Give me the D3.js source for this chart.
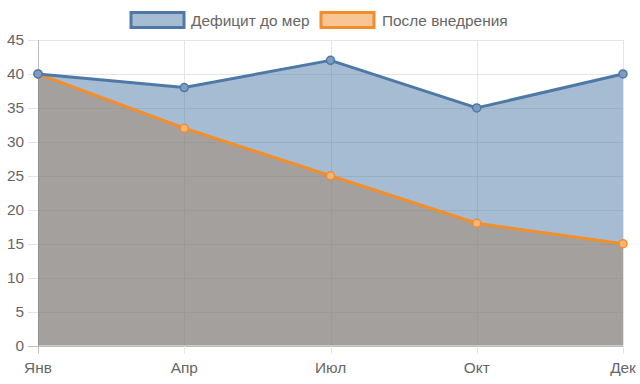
<!DOCTYPE html>
<html><head><meta charset="utf-8">
<script src="https://cdn.jsdelivr.net/npm/d3@7"></script>
<style>body{margin:0;background:#fff}svg{display:block}</style>
</head><body><svg id="c" width="640" height="384"></svg>
<script>
const categories = ["Янв","Апр","Июл","Окт","Дек"];
const seriesNames = ["Дефицит до мер","После внедрения"];
const deficitBefore = [40,38,42,35,40];
const afterImpl = [40,32,25,18,15];
const yTicks = [0,5,10,15,20,25,30,35,40,45];

const colors = ["#4e79a7","#f28e2b"];
const svg = d3.select("#c");
const font = "'Liberation Sans', Arial, sans-serif";
const fs = 15.4;
const L=38, R=623, T=40, B=345.5;
const x = d3.scalePoint().domain(categories).range([L,R]);
const y = d3.scaleLinear().domain([0,45]).range([B,T]);

// grid
const g = svg.append("g");
g.selectAll(".hg").data(yTicks).join("line")
 .attr("x1",L-10).attr("x2",R).attr("y1",d=>Math.round(y(d))+0.5).attr("y2",d=>Math.round(y(d))+0.5)
 .attr("stroke",d=>d===0?"#bdbdbd":"#e5e5e5").attr("stroke-width",1);
g.selectAll(".vg").data(categories).join("line")
 .attr("x1",d=>Math.round(x(d))+0.5).attr("x2",d=>Math.round(x(d))+0.5).attr("y1",T).attr("y2",B+8)
 .attr("stroke",(d,i)=>i===0?"#bdbdbd":"#e5e5e5").attr("stroke-width",1);

const series = [deficitBefore, afterImpl];
const area = d3.area().x((d,i)=>x(categories[i])).y0(y(0)).y1(d=>y(d));
const line = d3.line().x((d,i)=>x(categories[i])).y(d=>y(d));

// fills: orange first, blue over it
[1,0].forEach(k=>{
  svg.append("path").attr("d",area(series[k])).attr("fill",colors[k]).attr("fill-opacity",0.5);
});
[1,0].forEach(k=>{
  svg.append("path").attr("d",line(series[k])).attr("fill","none").attr("stroke",colors[k]).attr("stroke-width",3).attr("stroke-linejoin","round");
  svg.append("g").selectAll("circle").data(series[k]).join("circle")
   .attr("cx",(d,i)=>x(categories[i])).attr("cy",d=>y(d)).attr("r",4)
   .attr("fill",k===0?"#7f9cbf":"#f6b577").attr("stroke",colors[k]).attr("stroke-width",1.5);
});

// axis labels
svg.append("g").selectAll("text").data(yTicks).join("text")
 .attr("x",24).attr("y",d=>y(d)).attr("dy","0.35em").attr("text-anchor","end")
 .attr("font-family",font).attr("font-size",fs).attr("fill","#666").text(d=>d);
svg.append("g").selectAll("text").data(categories).join("text")
 .attr("x",d=>x(d)).attr("y",373).attr("text-anchor","middle")
 .attr("font-family",font).attr("font-size",fs).attr("fill","#666").text(d=>d);

// legend
const leg = [{x:131,tx:191},{x:321,tx:382}];
seriesNames.forEach((n,k)=>{
  svg.append("rect").attr("x",leg[k].x).attr("y",12.5).attr("width",53).attr("height",15)
   .attr("fill",colors[k]).attr("fill-opacity",0.5).attr("stroke",colors[k]).attr("stroke-width",3);
  svg.append("text").attr("x",leg[k].tx).attr("y",25.5).attr("font-family",font).attr("font-size",fs)
   .attr("fill","#666").text(n);
});
</script></body></html>
